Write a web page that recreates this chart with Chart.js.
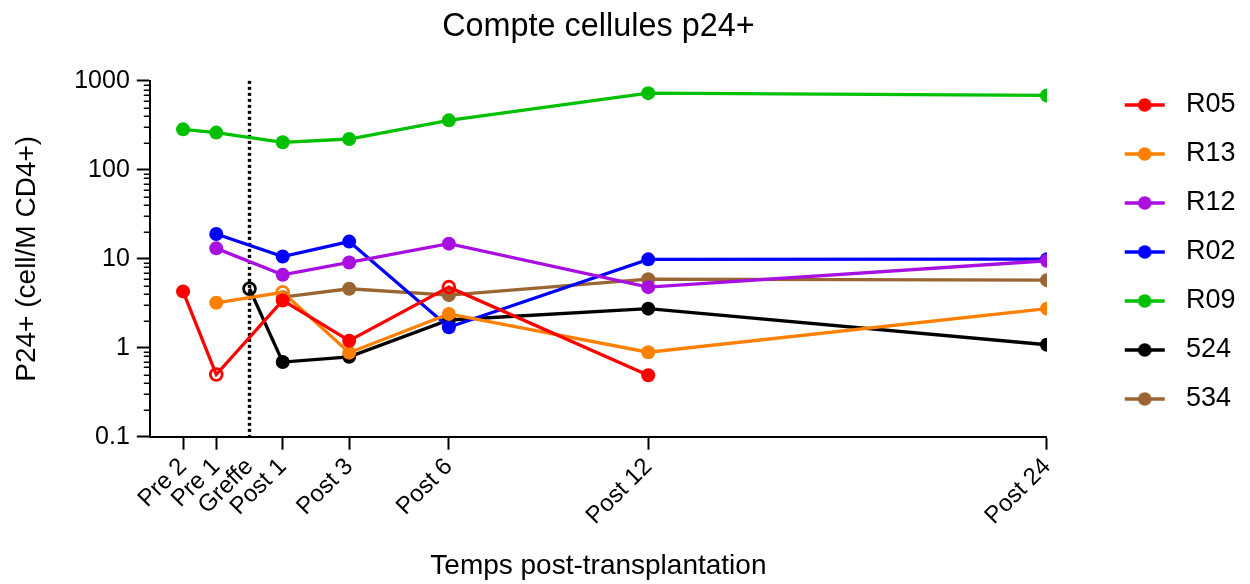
<!DOCTYPE html>
<html><head><meta charset="utf-8">
<script src="https://cdn.jsdelivr.net/npm/chart.js@4.4.1/dist/chart.umd.min.js"></script>
<style>html,body{margin:0;padding:0;background:#fff;} #wrap{width:1250px;height:584px;}</style>
</head><body><div id="wrap"><canvas id="c" width="1250" height="584"></canvas></div>
<script>
// ---- data ----
const months = [-2, -1, 0, 1, 3, 6, 12, 24];
const tickLabels = ['Pre 2', 'Pre 1', 'Greffe', 'Post 1', 'Post 3', 'Post 6', 'Post 12', 'Post 24'];
const yTickValues = [0.1, 1, 10, 100, 1000];
const yTickLabels = ['0.1', '1', '10', '100', '1000'];
const seriesNames = ['R05', 'R13', 'R12', 'R02', 'R09', '524', '534'];
const R05 = [4.3, 0.5, null, 3.4, 1.2, 4.8, 0.49, null];
const R13 = [null, 3.2, null, 4.2, 0.88, 2.4, 0.89, 2.75];
const R12 = [null, 13.1, null, 6.6, 9.1, 14.8, 4.8, 9.5];
const R02 = [null, 19, null, 10.6, 15.6, 1.7, 9.85, 9.9];
const R09 = [285, 262, null, 204, 222, 360, 728, 686];
const S524 = [null, null, 4.6, 0.69, 0.79, 2.05, 2.75, 1.08];
const S534 = [null, null, null, 3.7, 4.6, 3.9, 5.9, 5.75];
const seriesValues = [R05, R13, R12, R02, R09, S524, S534];
// months at which the marker is hollow
const openMarkers = { 'R05': [-1, 6], 'R13': [1], '524': [0] };
const greffeMonth = months[tickLabels.indexOf('Greffe')];

// ---- styles ----
const colors = ['#ff0000', '#ff8000', '#a80fe0', '#0000ff', '#00c000', '#000000', '#996633'];
const FONT = "'Liberation Sans', Arial, Helvetica, sans-serif";
Chart.defaults.font.family = FONT;
Chart.defaults.color = '#000';

function legendIcon(color) {
  const c = document.createElement('canvas');
  c.width = 90; c.height = 16;
  const g = c.getContext('2d');
  g.strokeStyle = color; g.lineWidth = 3.3;
  g.beginPath(); g.moveTo(49, 8); g.lineTo(89, 8); g.stroke();
  g.fillStyle = color;
  g.beginPath(); g.arc(69, 8, 6.8, 0, Math.PI * 2); g.fill();
  return c;
}

const datasets = seriesNames.map((name, si) => {
  const vals = seriesValues[si];
  const pts = [];
  months.forEach((m, i) => { if (vals[i] !== null) pts.push({ x: m, y: vals[i] }); });
  const open = openMarkers[name] || [];
  const isOpen = ctx => ctx.raw && open.includes(ctx.raw.x);
  return {
    label: name,
    data: pts,
    borderColor: colors[si],
    backgroundColor: colors[si],
    borderWidth: 3.3,
    tension: 0,
    pointRadius: ctx => isOpen(ctx) ? 5.9 : 7,
    pointHoverRadius: ctx => isOpen(ctx) ? 5.9 : 7,
    pointBorderWidth: ctx => isOpen(ctx) ? 2.8 : 0,
    pointHoverBorderWidth: ctx => isOpen(ctx) ? 2.8 : 0,
    pointBackgroundColor: ctx => isOpen(ctx) ? 'rgba(0,0,0,0)' : colors[si],
    pointBorderColor: colors[si],
    legendIcon: legendIcon(colors[si])
  };
});

const greffeLine = {
  id: 'greffeLine',
  beforeDatasetsDraw(chart) {
    const { ctx, scales: { x, y }, chartArea } = chart;
    const px = x.getPixelForValue(greffeMonth);
    ctx.save();
    ctx.strokeStyle = '#000';
    ctx.lineWidth = 3.4;
    ctx.setLineDash([3, 3]);
    ctx.beginPath();
    ctx.moveTo(px, y.getPixelForValue(yTickValues[yTickValues.length - 1]));
    ctx.lineTo(px, chartArea.bottom);
    ctx.stroke();
    ctx.restore();
  }
};

const minorTicks = {
  id: 'minorTicks',
  afterDraw(chart) {
    const { ctx, scales: { y } } = chart;
    const left = y.right;
    ctx.save();
    ctx.strokeStyle = '#000';
    ctx.lineWidth = 1.5;
    for (let d = 0; d < yTickValues.length - 1; d++) {
      for (let k = 2; k <= 9; k++) {
        const py = Math.round(y.getPixelForValue(yTickValues[d] * k)) + 0.25;
        ctx.beginPath();
        ctx.moveTo(left - 6, py);
        ctx.lineTo(left, py);
        ctx.stroke();
      }
    }
    ctx.restore();
  }
};

new Chart(document.getElementById('c'), {
  type: 'line',
  data: { datasets },
  plugins: [greffeLine, minorTicks],
  options: {
    responsive: false,
    animation: false,
    devicePixelRatio: 1,
    events: [],
    layout: { padding: { left: 0, right: 4.5, top: 0, bottom: 0 } },
    plugins: {
      tooltip: { enabled: false },
      title: {
        display: true,
        text: 'Compte cellules p24+',
        fullSize: false,
        color: '#000',
        font: { size: 32.4, weight: 'normal', family: FONT },
        padding: { top: 8, bottom: 34 }
      },
      legend: {
        display: true,
        position: 'right',
        align: 'start',
        title: { display: true, text: '', font: { size: 10 }, padding: { top: 57.5, bottom: 0 } },
        labels: {
          usePointStyle: true,
          pointStyleWidth: 103.5,
          padding: 22,
          color: '#000',
          font: { size: 27, family: FONT },
          generateLabels(chart) {
            return chart.data.datasets.map((ds, i) => ({
              text: ds.label,
              datasetIndex: i,
              pointStyle: ds.legendIcon,
              fillStyle: ds.borderColor,
              strokeStyle: ds.borderColor,
              lineWidth: 0,
              hidden: false,
              fontColor: '#000'
            }));
          }
        }
      }
    },
    scales: {
      x: {
        type: 'linear',
        min: -3,
        max: 24,
        afterBuildTicks: s => { s.ticks = months.map(v => ({ value: v })); },
        ticks: {
          autoSkip: false,
          minRotation: 45,
          maxRotation: 45,
          padding: 3,
          color: '#000',
          font: { size: 24, family: FONT },
          callback: v => tickLabels[months.indexOf(v)]
        },
        grid: {
          drawOnChartArea: false,
          tickLength: 13,
          tickWidth: 2,
          tickColor: ctx => (ctx.tick && ctx.tick.value === greffeMonth) ? 'rgba(0,0,0,0)' : '#000'
        },
        border: { display: true, color: '#000', width: 2 },
        title: {
          display: true,
          text: 'Temps post-transplantation',
          color: '#000',
          font: { size: 28, family: FONT },
          padding: { top: 15.8, bottom: 1 }
        }
      },
      y: {
        type: 'logarithmic',
        min: yTickValues[0],
        max: yTickValues[yTickValues.length - 1],
        afterBuildTicks: s => { s.ticks = yTickValues.map(v => ({ value: v, major: true })); },
        ticks: {
          autoSkip: false,
          padding: 7,
          color: '#000',
          font: { size: 25, family: FONT },
          callback: v => yTickLabels[yTickValues.indexOf(v)]
        },
        grid: { drawOnChartArea: false, tickLength: 13, tickWidth: 2, tickColor: '#000' },
        border: { display: true, color: '#000', width: 2 },
        title: {
          display: true,
          text: 'P24+ (cell/M CD4+)',
          color: '#000',
          font: { size: 28, family: FONT },
          padding: { top: 10, bottom: 23.6 }
        }
      }
    }
  }
});
</script>
</body></html>
